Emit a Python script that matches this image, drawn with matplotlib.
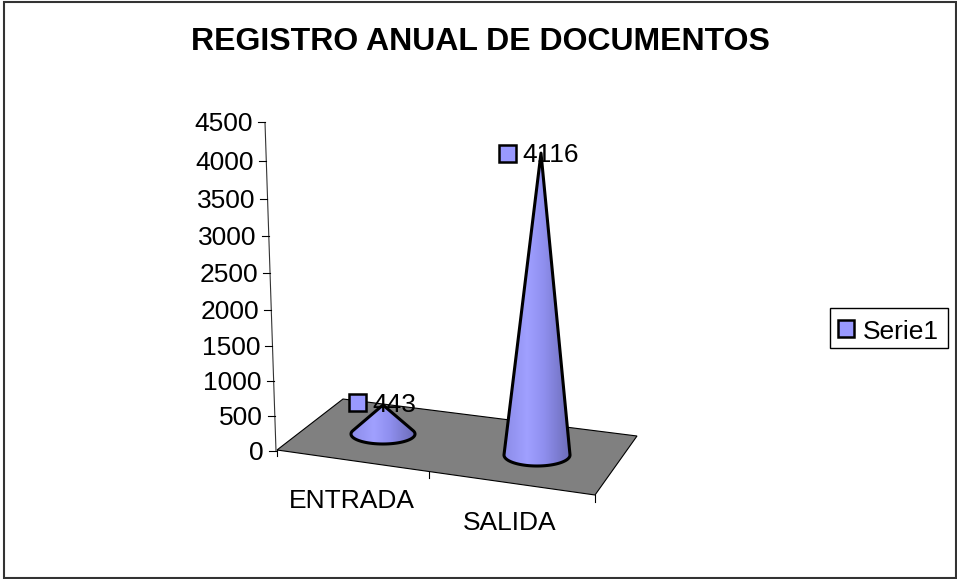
import numpy as np
import matplotlib
matplotlib.use('Agg')
import matplotlib.pyplot as plt
from matplotlib.patches import Polygon, Rectangle
from matplotlib.colors import LinearSegmentedColormap

title = 'REGISTRO ANUAL DE DOCUMENTOS'
categories = ['ENTRADA', 'SALIDA']
values = [443, 4116]
y_ticks = [0, 500, 1000, 1500, 2000, 2500, 3000, 3500, 4000, 4500]
series_name = 'Serie1'

plt.rcParams['font.family'] = ['Liberation Sans', 'DejaVu Sans']

fig = plt.figure(figsize=(9.57, 5.79), dpi=100)
ax = fig.add_axes([0, 0, 1, 1])
ax.set_xlim(0, 957)
ax.set_ylim(579, 0)
ax.axis('off')

fill = '#9999ff'
shade = LinearSegmentedColormap.from_list('cone', [(0, '#8c8ce8'), (0.35, '#a0a0ff'), (0.6, '#9090f0'), (1, '#6c6cb8')])
label_size = 19
text_dy = 2  # va='center' sits a bit high for these fonts


def val_y(v):
    # value axis in picture pixels, the 3D view stretches it a little towards the top
    return 451 - 0.0685 * v * (1 + 1.46e-5 * v)


def val_x(v):
    # the value axis leans a bit to the left
    return 276 - v * 11 / 4500


# outer frame
ax.add_patch(Rectangle((3.5, 1.5), 952.5, 576.5, fc='white', ec='#333333', lw=1.5))

ax.text(480, 42, title, ha='center', va='center', fontsize=23, fontweight='bold')

# floor
ax.add_patch(Polygon([(277, 450), (343, 399), (637, 436), (595, 495)],
                     closed=True, fc='#808080', ec='black', lw=0.8))

# value axis
ax.plot([val_x(0), val_x(4500)], [val_y(0), val_y(4500)], color='#333333', lw=0.8)
for t in y_ticks:
    ax.plot([val_x(t) - 7, val_x(t)], [val_y(t), val_y(t)], color='black', lw=0.8)
    ax.text(val_x(t) - 12, val_y(t) + text_dy, str(t), ha='right', va='center', fontsize=label_size)

# category ticks
ax.plot([429, 429], [472, 478], color='black', lw=0.8)
ax.plot([595, 595], [495, 502], color='black', lw=0.8)
ax.plot([277, 277], [450, 456], color='black', lw=0.8)

cat_x = [352, 510]
cat_y = [499, 521]
for name, x, y in zip(categories, cat_x, cat_y):
    ax.text(x, y + text_dy, name, ha='center', va='center', fontsize=label_size)

# cones
base_x = [383, 537]
base_y = [434, 455]
half_w = [32, 33]
half_h = [10, 11]
apex_dx = [0, 4]
apex_dy = [1.5, -3]
label_x = [349, 499]
label_y = [394, 145]

for v, bx, by, w, h, dx, dy, lx, ly in zip(values, base_x, base_y, half_w, half_h, apex_dx, apex_dy, label_x, label_y):
    tip = (bx + dx, val_y(v) + (by - 451) + dy)
    # side lines touch the base ellipse at the tangent points
    touch = np.arcsin(h / (by - tip[1]))
    t = np.linspace(np.pi + touch, -touch, 80)
    pts = [(bx + w * np.cos(a), by + h * np.sin(a)) for a in t]
    pts = pts + [tip, pts[0]]
    cone = Polygon(pts, closed=True, fc=fill, ec='none')
    ax.add_patch(cone)
    grad = np.linspace(0, 1, 128).reshape(1, -1)
    im = ax.imshow(grad, extent=[bx - w, bx + w, by + h, tip[1]], cmap=shade, aspect='auto', zorder=2)
    im.set_clip_path(cone)
    ax.add_patch(Polygon(pts, closed=True, fc='none', ec='black', lw=2.2, joinstyle='round', zorder=3))
    ax.add_patch(Rectangle((lx, ly), 17, 17, fc=fill, ec='black', lw=1.8, zorder=4))
    ax.text(lx + 23, ly + 8.5 + text_dy, str(v), ha='left', va='center', fontsize=label_size, zorder=4)

ax.set_xlim(0, 957)
ax.set_ylim(579, 0)

# legend
ax.add_patch(Rectangle((830, 308), 118, 40, fc='white', ec='black', lw=1))
ax.add_patch(Rectangle((838, 320), 16, 17, fc=fill, ec='black', lw=1.8))
ax.text(863, 330 + text_dy, series_name, ha='left', va='center', fontsize=label_size)

fig.savefig('out.png', dpi=100)
